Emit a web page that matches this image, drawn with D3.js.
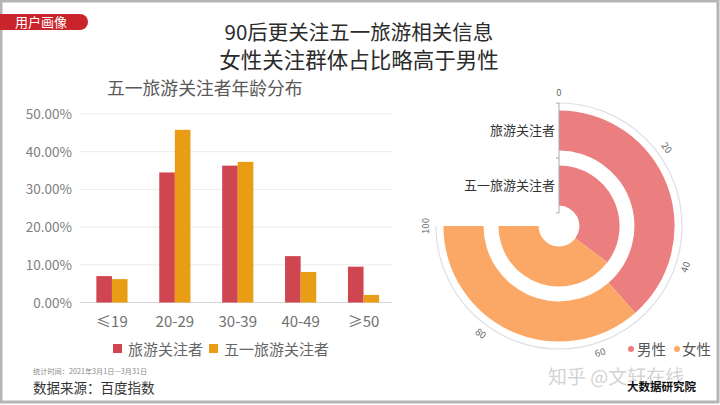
<!DOCTYPE html>
<html><head><meta charset="utf-8">
<script src="https://cdn.jsdelivr.net/npm/d3@7/dist/d3.min.js"></script>
<style>
html,body{margin:0;padding:0;background:#fff;}
svg{display:block;}
text{font-family:"Noto Sans CJK SC","Noto Sans",sans-serif;}
</style></head>
<body>
<svg id="c" width="720" height="405"></svg>
<script>
// ---- data ----
const ageCats = ['≤19','20-29','30-39','40-49','≥50'];
const travelVals = [7.0, 34.5, 36.3, 12.3, 9.5];
const mayDayVals = [6.2, 45.8, 37.3, 8.1, 2.0];
const barSeries = ['旅游关注者','五一旅游关注者'];
const yTicks = [0,10,20,30,40,50];

const ringCats = ['五一旅游关注者','旅游关注者']; // inner -> outer
const maleVals = [47.0, 51.4];
const femaleVals = [53.0, 48.6];
const genderNames = ['男性','女性'];
const angleTicks = [0,20,40,60,80,100];

const svg = d3.select('#c');

// frame
svg.append('rect').attr('x',1).attr('y',1).attr('width',717).attr('height',401)
  .attr('fill','none').attr('stroke','#b5b5b5').attr('stroke-width',3);

// tag
svg.append('path').attr('d','M0,14 H80 A8,8 0 0 1 80,30 H0 Z').attr('fill','#C9232C');
svg.append('text').attr('x',15).attr('y',27).attr('fill','#fff').attr('font-size',13).text('用户画像');

// titles
svg.append('text').attr('x',359).attr('y',39.5).attr('text-anchor','middle').attr('font-size',20.5)
  .attr('fill','#2b2b2b').text('90后更关注五一旅游相关信息');
svg.append('text').attr('x',359).attr('y',68).attr('text-anchor','middle').attr('font-size',21.5)
  .attr('fill','#2b2b2b').text('女性关注群体占比略高于男性');
svg.append('text').attr('x',107).attr('y',95).attr('font-size',17.8)
  .attr('fill','#595959').text('五一旅游关注者年龄分布');

// ---- bar chart ----
const x = d3.scaleBand().domain(ageCats).range([80.5,395]);
const y = d3.scaleLinear().domain([0,50]).range([302.5,114]);
const barColors = ['#CF4550','#E99D14'];

const g = svg.append('g');
g.selectAll('line.grid').data(yTicks).join('line')
  .attr('x1',80).attr('x2',392).attr('y1',d=>y(d)).attr('y2',d=>y(d))
  .attr('stroke',d=>d===0?'#d4d4d4':'#ebebeb').attr('stroke-width',1);
g.selectAll('text.yl').data(yTicks).join('text')
  .attr('x',72).attr('y',d=>y(d)+5).attr('text-anchor','end')
  .attr('font-family','"Liberation Sans",Arial,sans-serif').attr('font-size',13.5)
  .attr('fill','#808080').text(d=>d.toFixed(2)+'%');

const bw = 15.6;
[travelVals, mayDayVals].forEach((vals,si)=>{
  g.selectAll('rect.s'+si).data(vals).join('rect')
    .attr('x',(d,i)=>x(ageCats[i])+x.bandwidth()/2 - bw + si*bw)
    .attr('width',bw)
    .attr('y',d=>y(d)).attr('height',d=>y(0)-y(d))
    .attr('fill',barColors[si]);
});
g.selectAll('text.xl').data(ageCats).join('text')
  .attr('x',d=>x(d)+x.bandwidth()/2).attr('y',327).attr('text-anchor','middle')
  .attr('font-family','"Liberation Sans","Noto Sans CJK SC",sans-serif').attr('font-size',15)
  .attr('fill','#707070').text(d=>d);

// legend
const legX = [113, 209];
barSeries.forEach((s,i)=>{
  svg.append('rect').attr('x',legX[i]).attr('y',344).attr('width',9).attr('height',9).attr('fill',barColors[i]);
  svg.append('text').attr('x',legX[i]+15).attr('y',354.5).attr('font-size',15).attr('fill','#666').text(s);
});

svg.append('text').attr('x',33).attr('y',373.5).attr('font-size',7.2).attr('fill','#8a8a8a')
  .text('统计时间：2021年3月1日—3月31日');
svg.append('text').attr('x',33).attr('y',393).attr('font-size',13.5).attr('fill','#333')
  .text('数据来源：百度指数');

// ---- polar stacked bar ----
const cx = 559, cy = 226;
const P = svg.append('g').attr('transform',`translate(${cx},${cy})`);
const ang = d3.scaleLinear().domain([0,100]).range([0, 1.5*Math.PI]);
const rad = d3.scaleBand().domain(ringCats).range([13,123]).paddingInner(0.27).paddingOuter(0.135);
const ringColors = ['#EB7F7F','#FBA866'];

// axis circle
P.append('path').attr('d', d3.arc()({innerRadius:123,outerRadius:123,startAngle:ang(0),endAngle:ang(100)}))
  .attr('fill','none').attr('stroke','#dde0e6').attr('stroke-width',1.2);

const arc = d3.arc();
ringCats.forEach((c,i)=>{
  const m = maleVals[i], f = femaleVals[i];
  const segs = [[0,m],[m,m+f]];
  segs.forEach((sg,k)=>{
    P.append('path').attr('d', arc({innerRadius:rad(c), outerRadius:rad(c)+rad.bandwidth(),
      startAngle:ang(sg[0]), endAngle:ang(sg[1])})).attr('fill',ringColors[k]);
  });
});

// angle labels
angleTicks.forEach(t=>{
  const a = ang(t);
  const deg = a*180/Math.PI;
  const rr = 133;
  const px = rr*Math.sin(a), py = -rr*Math.cos(a);
  const rot = ((deg+90)%180)-90;
  P.append('text').attr('transform',`translate(${px},${py}) rotate(${rot})`)
    .attr('text-anchor','middle').attr('dy','0.35em')
    .attr('font-family','"Liberation Serif","DejaVu Serif",serif').attr('font-size',9.5)
    .attr('fill','#666').text(t);
});

// radial axis
P.append('line').attr('x1',0).attr('x2',0).attr('y1',-13).attr('y2',-123).attr('stroke','#aaa').attr('stroke-width',1);
[13,68,123].forEach(r=>{
  P.append('line').attr('x1',-3).attr('x2',0).attr('y1',-r).attr('y2',-r).attr('stroke','#aaa');
});
ringCats.forEach(c=>{
  P.append('text').attr('x',-4).attr('y',-(rad(c)+rad.bandwidth()/2)+4.5).attr('text-anchor','end')
    .attr('font-size',13).attr('fill','#333').text(c);
});

// gender legend
const gl = [[631,637],[677,682]];
genderNames.forEach((n,i)=>{
  svg.append('circle').attr('cx',gl[i][0]).attr('cy',349).attr('r',3).attr('fill',ringColors[i]);
  svg.append('text').attr('x',gl[i][1]).attr('y',355).attr('font-size',14.5).attr('fill','#555').text(n);
});

// watermark
svg.append('text').attr('x',548).attr('y',384).attr('font-size',19).attr('fill','#cfcfcf').attr('opacity',0.9)
  .text('知乎 @文轩在线');
svg.append('text').attr('x',627).attr('y',391).attr('font-size',11.5).attr('font-weight','bold').attr('fill','#111')
  .text('大数据研究院');
</script>
</body></html>
